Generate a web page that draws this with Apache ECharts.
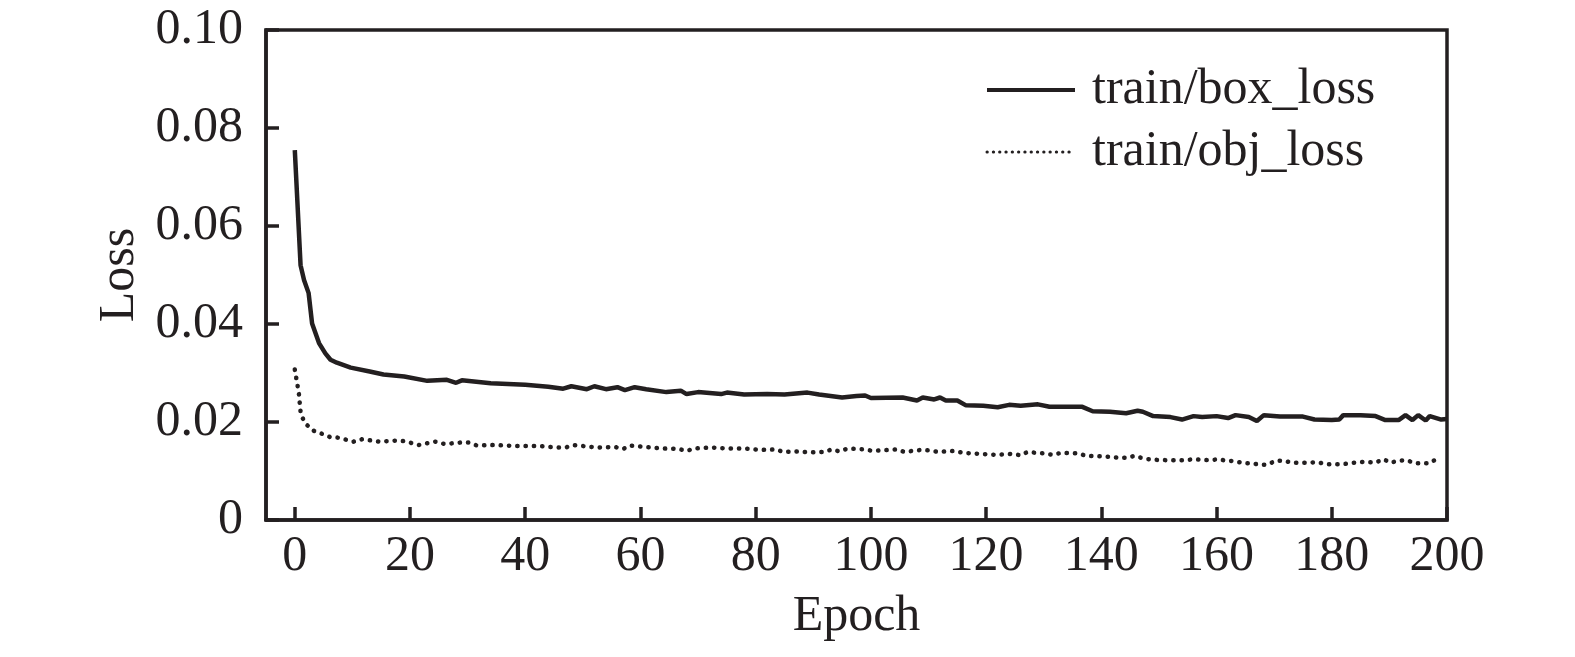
<!DOCTYPE html>
<html>
<head>
<meta charset="utf-8">
<script src="https://cdn.jsdelivr.net/npm/echarts@6/dist/echarts.min.js"></script>
<style>
  html, body { margin: 0; padding: 0; background: #fff; }
  #chart { width: 1575px; height: 657px; }
</style>
</head>
<body>
<div id="chart"></div>
<script>
// train/box_loss，读图估计
var boxEpoch = [0, 1, 1.6, 2.4, 3, 4.2, 5.3, 6.2, 7.3, 9.7, 13, 15.4, 19, 23, 26.4, 28, 29, 34, 40, 44,
    46.6, 48, 50.7, 52, 54, 56, 57.3, 59, 61, 64.5, 67, 68, 70, 74, 75, 78, 82, 85, 89, 91,
    95, 97.5, 99, 100, 105.5, 108, 109, 111, 112, 113, 115, 116.5, 119.5, 122, 124, 126, 129, 131, 136.7, 138.5,
    141.5, 144.3, 146.3, 147.2, 149, 152, 154, 156, 157.5, 160, 162, 163.3, 165.6, 167, 168.2, 171, 175, 177, 180, 181.3,
    182, 185, 187.6, 189.3, 191.6, 192.8, 194, 195, 196.3, 197, 199, 200];
var boxLoss = [0.0755, 0.0520, 0.0490, 0.0463, 0.0401, 0.0361, 0.0340, 0.0327, 0.0321, 0.0311, 0.0303, 0.0297, 0.0293, 0.0284, 0.0286, 0.0280, 0.0285, 0.0279, 0.0276, 0.0272,
    0.0268, 0.0273, 0.0267, 0.0273, 0.0267, 0.0271, 0.0265, 0.0271, 0.0267, 0.0261, 0.0264, 0.0257, 0.0261, 0.0257, 0.0260, 0.0256, 0.0257, 0.0256, 0.0260, 0.0256,
    0.0250, 0.0253, 0.0254, 0.0249, 0.0250, 0.0244, 0.0250, 0.0246, 0.0250, 0.0244, 0.0244, 0.0234, 0.0233, 0.0230, 0.0235, 0.0233, 0.0236, 0.0231, 0.0231, 0.0222,
    0.0221, 0.0218, 0.0223, 0.0221, 0.0212, 0.0210, 0.0205, 0.0212, 0.0210, 0.0212, 0.0208, 0.0214, 0.0210, 0.0202, 0.0214, 0.0211, 0.0211, 0.0205, 0.0204, 0.0205,
    0.0214, 0.0214, 0.0212, 0.0204, 0.0204, 0.0214, 0.0204, 0.0214, 0.0203, 0.0212, 0.0205, 0.0206];

// train/obj_loss
var objEpoch = [0, 0.7, 1, 1.4, 2.1, 3.3, 4.7, 6.2, 7.6, 10.2, 11.7, 14.6, 17.5, 19, 21.5, 24.4, 26, 28.7, 30.2, 31.6,
    34.5, 38.5, 42.6, 45.5, 47, 48.4, 50.7, 52.7, 55.6, 57, 58.2, 61, 63.7, 66.6, 68, 69.4, 72.3, 75, 78, 80.7,
    83.6, 84.7, 87.6, 89, 92, 93.2, 94.5, 96, 99, 100.3, 103, 104.5, 105.8, 108.7, 110.2, 111.6, 114.5, 116, 118.8, 121.7,
    124.6, 126, 127.2, 128.7, 130, 131.6, 133, 136, 137.3, 140.2, 143, 144.6, 145.8, 147.2, 148.8, 151.6, 154.5, 156, 158.8, 160.3,
    161.7, 163.2, 164.6, 166, 167.4, 168.8, 170.3, 171.7, 173, 176, 177.5, 179, 182, 183.2, 186, 187.5, 189, 190.2, 191.6, 193,
    194.4, 197, 198.1, 199];
var objLoss = [0.0307, 0.0259, 0.0221, 0.0207, 0.0194, 0.0182, 0.0176, 0.0169, 0.0168, 0.0160, 0.0165, 0.0160, 0.0162, 0.0161, 0.0153, 0.0160, 0.0155, 0.0158, 0.0158, 0.0152,
    0.0153, 0.0151, 0.0151, 0.0148, 0.0148, 0.0153, 0.0150, 0.0148, 0.0149, 0.0145, 0.0152, 0.0149, 0.0146, 0.0145, 0.0141, 0.0146, 0.0148, 0.0146, 0.0146, 0.0143,
    0.0144, 0.0139, 0.0140, 0.0138, 0.0139, 0.0144, 0.0140, 0.0146, 0.0144, 0.0141, 0.0143, 0.0144, 0.0139, 0.0143, 0.0142, 0.0139, 0.0141, 0.0137, 0.0135, 0.0133,
    0.0135, 0.0132, 0.0139, 0.0137, 0.0136, 0.0133, 0.0137, 0.0136, 0.0131, 0.0130, 0.0127, 0.0127, 0.0131, 0.0126, 0.0123, 0.0122, 0.0122, 0.0124, 0.0122, 0.0124,
    0.0121, 0.0120, 0.0116, 0.0116, 0.0113, 0.0113, 0.0121, 0.0121, 0.0117, 0.0117, 0.0118, 0.0114, 0.0114, 0.0116, 0.0119, 0.0117, 0.0124, 0.0117, 0.0121, 0.0122,
    0.0116, 0.0116, 0.0124, 0.0127];

var xTicks = [0, 20, 40, 60, 80, 100, 120, 140, 160, 180, 200];
var seriesNames = ['train/box_loss', 'train/obj_loss'];

function pairs(xs, ys) {
    var res = [];
    for (var i = 0; i < xs.length; i++) {
        res.push([xs[i], ys[i]]);
    }
    return res;
}

var ink = '#231f20';
var font = 'Liberation Serif';

var dom = document.getElementById("chart");
var myChart = echarts.init(dom);
var option = {
    animation: false,
    textStyle: { fontFamily: font, color: ink },
    grid: {
        left: 266, right: 128, top: 30, bottom: 137,
        show: true, borderColor: ink, borderWidth: 3.5
    },
    legend: {
        orient: 'vertical',
        left: 980,
        top: 60,
        itemWidth: 88,
        itemHeight: 14,
        itemGap: 12,
        // 图例只画线，不画圆点
        itemStyle: { color: 'rgba(0,0,0,0)', borderColor: 'rgba(0,0,0,0)', borderWidth: 0 },
        textStyle: { fontFamily: font, fontSize: 50, color: ink, padding: [0, 0, 0, 12] },
        data: [
            { name: seriesNames[0], lineStyle: { color: ink, width: 4 } },
            { name: seriesNames[1], lineStyle: { color: ink, width: 3, type: [0.3, 6], cap: 'round' } }
        ]
    },
    xAxis: {
        type: 'value',
        min: -5,
        max: 200,
        name: 'Epoch',
        nameLocation: 'middle',
        nameGap: 72,
        nameTextStyle: { fontFamily: font, fontSize: 50, color: ink },
        axisLine: { onZero: false, lineStyle: { color: ink, width: 3.5 } },
        axisTick: { inside: true, length: 13, customValues: xTicks, lineStyle: { color: ink, width: 3.5 } },
        axisLabel: { customValues: xTicks, margin: 12, fontFamily: font, fontSize: 50, color: ink },
        splitLine: { show: false }
    },
    yAxis: {
        type: 'value',
        min: 0,
        max: 0.1,
        interval: 0.02,
        name: 'Loss',
        nameLocation: 'middle',
        nameGap: 120,
        nameTextStyle: { fontFamily: font, fontSize: 50, color: ink },
        axisLine: { onZero: false, lineStyle: { color: ink, width: 3.5 } },
        axisTick: { inside: true, length: 13, lineStyle: { color: ink, width: 3.5 } },
        axisLabel: {
            margin: 23, fontFamily: font, fontSize: 50, color: ink,
            formatter: function (v) { return v === 0 ? '0' : v.toFixed(2); }
        },
        splitLine: { show: false }
    },
    series: [
        {
            name: seriesNames[0],
            type: 'line',
            symbol: 'none',
            data: pairs(boxEpoch, boxLoss),
            lineStyle: { color: ink, width: 4.5 },
            itemStyle: { color: ink }
        },
        {
            name: seriesNames[1],
            type: 'line',
            symbol: 'none',
            data: pairs(objEpoch, objLoss),
            lineStyle: { color: ink, width: 4.5, type: [0.3, 8], cap: 'round' },
            itemStyle: { color: ink }
        }
    ]
};
if (option && typeof option === "object") {
    myChart.setOption(option, true);
}
</script>
</body>
</html>
